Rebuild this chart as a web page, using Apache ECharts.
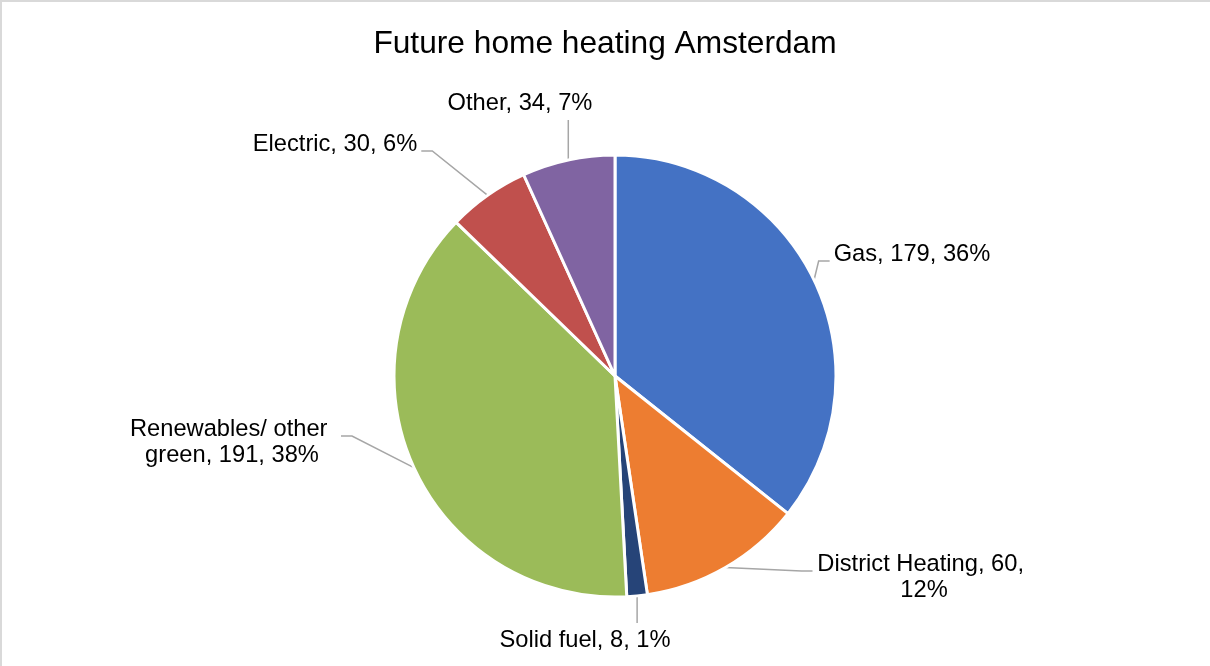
<!DOCTYPE html>
<html>
<head>
<meta charset="utf-8">
<title>Future home heating Amsterdam</title>
<script src="https://cdn.jsdelivr.net/npm/echarts@6/dist/echarts.min.js"></script>
<style>
  html, body { margin: 0; padding: 0; background: #fff; }
  #chart { width: 1210px; height: 666px; }
</style>
</head>
<body>
<div id="chart"></div>
<script>
// values; solid fuel is shown as "8" yet only "1%", so it is taken as 7.5
const categories = ['Gas', 'District Heating', 'Solid fuel', 'Renewables/ other green', 'Electric', 'Other']
const homes = [179, 60, 7.5, 191, 30, 34]
const sliceColors = ['#4472C4', '#ED7D31', '#264478', '#9BBB59', '#C0504D', '#8064A2']

const total = homes.reduce((a, b) => a + b, 0)

// where Excel put each data label (centre of the text block) and how wide it wraps
const labelSpots = [
  { x: 912, y: 254 },
  { x: 924, y: 577, wrap: 215 },
  { x: 585, y: 640 },
  { x: 232, y: 442, wrap: 210 },
  { x: 335, y: 144 },
  { x: 520, y: 103 }
]

// Excel style leader line: straight down/up if the label sits over the slice, else elbow into the side
function leader(anchor, rect) {
  const gap = 4
  if (anchor[0] >= rect.x && anchor[0] <= rect.x + rect.width) {
    const ey = anchor[1] < rect.y ? rect.y - gap : rect.y + rect.height + gap
    return [anchor, [anchor[0], (anchor[1] + ey) / 2], [anchor[0], ey]]
  }
  const onRight = anchor[0] > rect.x + rect.width
  const ex = onRight ? rect.x + rect.width + gap : rect.x - gap
  const bx = onRight ? ex + 11 : ex - 11
  const ey = rect.y + 20
  return [anchor, [bx, ey], [ex, ey]]
}

const chart = echarts.init(document.getElementById('chart'))

let option = {
  animation: false,
  color: sliceColors,
  title: {
    text: 'Future home heating Amsterdam',
    left: 'center',
    top: 23,
    textStyle: {
      fontFamily: 'Liberation Sans',
      fontSize: 31.7,
      fontWeight: 'normal',
      color: '#000'
    }
  },
  graphic: [
    {
      type: 'rect',
      silent: true,
      z: -10,
      shape: { x: 1, y: 1, width: 1260, height: 720 },
      style: { fill: 'none', stroke: '#d9d9d9', lineWidth: 2 }
    }
  ],
  series: [
    {
      type: 'pie',
      center: [615, 376],
      radius: 221,
      startAngle: 90,
      clockwise: true,
      avoidLabelOverlap: false,
      emphasis: { disabled: true },
      itemStyle: {
        borderColor: '#fff',
        borderWidth: 3
      },
      label: {
        show: true,
        position: 'outside',
        fontFamily: 'Liberation Sans',
        fontSize: 23.7,
        lineHeight: 26,
        color: '#000',
        align: 'center',
        formatter: function (p) {
          return p.name + ', ' + Math.round(p.value) + ', ' + Math.round(p.value / total * 100) + '%'
        }
      },
      labelLine: {
        show: true,
        lineStyle: { color: '#a6a6a6', width: 1.5 }
      },
      labelLayout: function (params) {
        const spot = labelSpots[params.dataIndex]
        const w = params.labelRect.width
        const h = params.labelRect.height
        const rect = { x: spot.x - w / 2, y: spot.y - h / 2, width: w, height: h }
        const out = { x: spot.x, y: spot.y, align: 'center', verticalAlign: 'middle' }
        if (params.labelLinePoints) {
          out.labelLinePoints = leader(params.labelLinePoints[0], rect)
        }
        return out
      },
      data: categories.map((name, i) => {
        const item = { name: name, value: homes[i] }
        if (labelSpots[i].wrap) {
          item.label = { width: labelSpots[i].wrap, overflow: 'break' }
        }
        return item
      })
    }
  ]
}

chart.setOption(option)
</script>
</body>
</html>
